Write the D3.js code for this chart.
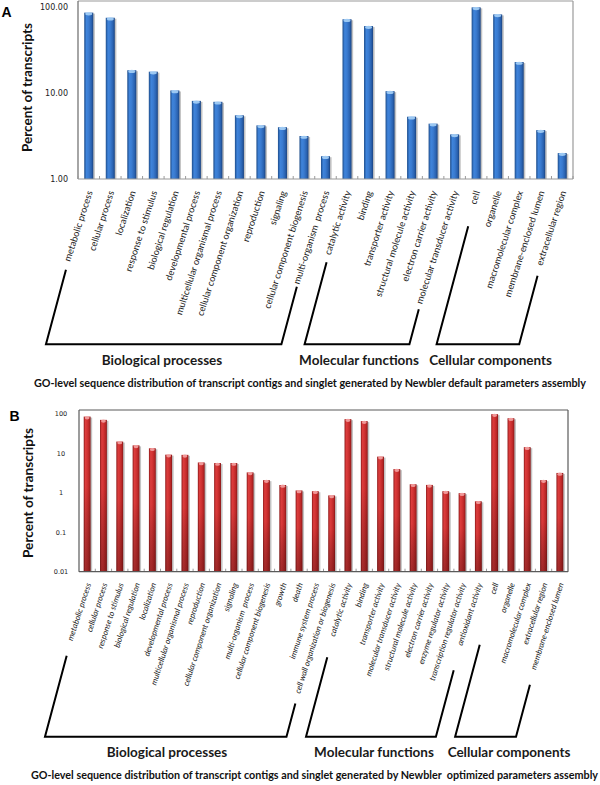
<!DOCTYPE html>
<html><head><meta charset="utf-8">
<script src="https://cdn.jsdelivr.net/npm/d3@7/dist/d3.min.js"></script>
<style>body{margin:0;background:#fff} svg{display:block} text{white-space:pre}</style>
</head><body><svg id="c" width="600" height="785"></svg>
<script>
// ---------------- DATA ----------------
const categoriesA = ["metabolic process","cellular process","localization","response to stimulus","biological regulation","developmental process","multicellular organismal process","cellular component organization","reproduction","signaling","cellular component biogenesis","multi-organism  process","catalytic activity","binding","transporter activity","structural molecule activity","electron carrier activity","molecular transducer activity","cell","organelle","macromolecular complex","membrane-enclosed lumen","extracellular region"];
const valuesA = [86, 75, 18.4, 17.7, 10.7, 8.1, 7.9, 5.5, 4.2, 4.0, 3.16, 1.84, 72, 60, 10.5, 5.3, 4.4, 3.3, 99, 82, 22.9, 3.7, 2.0];
const groupNamesA = ["Biological processes","Molecular functions","Cellular components"];
const groupSizesA = [12, 6, 5];
const tickValuesA = [1, 10, 100];
const tickLabelsA = ["1.00","10.00","100.00"];
const captionA = "GO-level sequence distribution of transcript contigs and singlet generated by Newbler default parameters assembly";

const categoriesB = ["metabolic process","cellular process","response to stimulus","biological regulation","localization","developmental process","multicellular organismal process","reproduction","cellular component organization","signaling","multi-organism  process","cellular component biogenesis","growth","death","immune system process","cell wall organization or biogenesis","catalytic activity","binding","transporter activity","molecular transducer activity","structural molecule activity","electron carrier activity","enzyme regulator activity","transcription regulator activity","antioxidant activity","cell","organelle","macromolecular complex","extracellular region","membrane-enclosed lumen"];
const valuesB = [86, 71, 20, 16, 13.5, 9.3, 9.2, 5.9, 5.7, 5.7, 3.3, 2.1, 1.58, 1.15, 1.1, 0.86, 74, 66, 8.3, 4.0, 1.65, 1.59, 1.1, 0.98, 0.61, 99, 78, 14.4, 2.1, 3.2];
const groupNamesB = ["Biological processes","Molecular functions","Cellular components"];
const groupSizesB = [16, 9, 5];
const tickValuesB = [0.01, 0.1, 1, 10, 100];
const tickLabelsB = ["0.01","0.1","1","10","100"];
const captionB = "GO-level sequence distribution of transcript contigs and singlet generated by Newbler  optimized parameters assembly";

const yTitle = "Percent of transcripts";

// ---------------- LAYOUT ----------------
const svg = d3.select("#c");
const defs = svg.append("defs");

function grad(id, stops, vertical){
  const g = defs.append("linearGradient").attr("id", id)
    .attr("x1","0").attr("y1","0").attr("x2", vertical ? "0" : "1").attr("y2", vertical ? "1" : "0");
  stops.forEach(s => g.append("stop").attr("offset", s[0]).attr("stop-color", s[1]).attr("stop-opacity", s[2] == null ? 1 : s[2]));
}
grad("blueH", [["0%","#1d4c8a"],["25%","#3f84db"],["50%","#3a7bd0"],["80%","#2a62b0"],["100%","#1a4380"]]);
grad("redH", [["0%","#8e1818"],["25%","#dc3d3d"],["50%","#d23434"],["80%","#b82626"],["100%","#861515"]]);
grad("redV", [["0%","#000",0],["45%","#000",0],["100%","#3a0a0a",0.35]], true);

const panels = [
  { letter:"A", letterX:1.5, letterY:17, cats:categoriesA, vals:valuesA, groups:groupNamesA, sizes:groupSizesA,
    ticks:tickValuesA, tickLabels:tickLabelsA, caption:captionA,
    left:78, right:573, frameTop:1, top100:7, bottom:179, domain:[1,100],
    tickFont:"8px 'DejaVu Sans'", tickX:68, tickAnchor:"end",
    titleX:27, titleY:87.5, titleLen:129,
    barColor:"url(#blueH)", overlay:null, cap:"#a6d0f6", frame:"#9a9a9a", axisLeft:"#6a6a6a",
    labelY:192, labelDx:4, labelAngle:-72, labelRef:["multicellular organismal process",130], labelItalic:false,
    bracketBottom:344.3, gaps:[[8,2],[7,5],[22,10]],
    groupX:[162,359,490.6], groupY:364.5, groupFont:13.5,
    captionX:310, captionY:386.5, captionW:552 },
  { letter:"B", letterX:9.5, letterY:420.7, cats:categoriesB, vals:valuesB, groups:groupNamesB, sizes:groupSizesB,
    ticks:tickValuesB, tickLabels:tickLabelsB, caption:captionB,
    left:79, right:568, frameTop:410, top100:414, bottom:571.7, domain:[0.01,100],
    tickFont:"6.5px 'DejaVu Sans'", tickX:61, tickAnchor:"middle",
    titleX:28, titleY:493, titleLen:130,
    barColor:"url(#redH)", overlay:"url(#redV)", cap:"#f3a3a3", frame:"#5a5a5a", axisLeft:"#5a5a5a",
    labelY:584, labelDx:4, labelAngle:-72, labelRef:["multicellular organismal process",107], labelItalic:true,
    bracketBottom:736.7, gaps:[[15,10],[21,25],[52,15]],
    groupX:[167,374,509], groupY:756.5, groupFont:13.5,
    captionX:314.5, captionY:778.5, captionW:567 }
];

const rad = Math.PI/180;
const bracketAng = 75 * rad;

panels.forEach(p => {
  const g = svg.append("g");
  const x = d3.scaleBand().domain(p.cats.map((c,i)=>i)).range([p.left, p.right]).paddingInner(0.58).paddingOuter(0.29);
  const y = d3.scaleLog().domain(p.domain).range([p.bottom, p.top100]);
  const bw = x.bandwidth();
  const step = x.step();

  // frame
  g.append("line").attr("x1",p.left).attr("x2",p.right).attr("y1",p.frameTop).attr("y2",p.frameTop).attr("stroke",p.frame).attr("stroke-width",1.2);
  g.append("line").attr("x1",p.right).attr("x2",p.right).attr("y1",p.frameTop).attr("y2",p.bottom).attr("stroke",p.frame).attr("stroke-width",1.2);
  g.append("line").attr("x1",p.left).attr("x2",p.left).attr("y1",p.frameTop).attr("y2",p.bottom).attr("stroke",p.axisLeft).attr("stroke-width",1.2);

  // x-axis ticks between bands (inward)
  const bounds = d3.range(p.cats.length + 1).map(k => p.left + k*step);
  g.selectAll(null).data(bounds).enter().append("line")
    .attr("x1",d=>d).attr("x2",d=>d).attr("y1",p.bottom).attr("y2",p.bottom-3)
    .attr("stroke","#9a9a9a").attr("stroke-width",1);

  // y tick labels
  g.selectAll(null).data(p.ticks).enter().append("text")
    .attr("x", p.tickX).attr("y", d => y(d)).attr("dy","0.35em")
    .attr("text-anchor", p.tickAnchor).style("font", p.tickFont).attr("fill","#222")
    .text((d,i) => p.tickLabels[i]);

  // bars
  const bars = g.selectAll(null).data(p.vals).enter().append("g");
  bars.append("rect").attr("x",(d,i)=>x(i)+1.6).attr("y",d=>y(d)+1).attr("width",bw).attr("height",d=>p.bottom-y(d)-1)
    .attr("fill","#7a7a7a").attr("opacity",0.45);
  bars.append("rect").attr("x",(d,i)=>x(i)).attr("y",d=>y(d)).attr("width",bw).attr("height",d=>p.bottom-y(d))
    .attr("fill",p.barColor);
  if (p.overlay) bars.append("rect").attr("x",(d,i)=>x(i)).attr("y",d=>y(d)).attr("width",bw).attr("height",d=>p.bottom-y(d))
    .attr("fill",p.overlay);
  bars.append("ellipse").attr("cx",(d,i)=>x(i)+bw/2).attr("cy",d=>y(d)+1.2).attr("rx",bw/2-1).attr("ry",1.6)
    .attr("fill",p.cap).attr("opacity",0.9);

  // bottom axis line
  g.append("line").attr("x1",p.left).attr("x2",p.right).attr("y1",p.bottom).attr("y2",p.bottom).attr("stroke",p.frame).attr("stroke-width",1.2);

  // category labels: size chosen so the reference label has its measured length
  const probe = g.append("text").style("font-family","Lato").style("font-size","10px")
    .style("font-style", p.labelItalic ? "italic" : "normal").text(p.labelRef[0]);
  const fs = 10 * p.labelRef[1] / probe.node().getComputedTextLength();
  probe.remove();
  const a = -p.labelAngle * rad;
  const labels = g.selectAll(null).data(p.cats).enter().append("text")
    .attr("text-anchor","end")
    .attr("transform",(d,i)=>`translate(${x(i)+bw/2+p.labelDx},${p.labelY}) rotate(${p.labelAngle})`)
    .style("font-family","Lato").style("font-size",fs+"px").style("font-style", p.labelItalic ? "italic" : "normal")
    .attr("fill","#1a1a1a").text(d=>d);
  const starts = [];
  labels.each(function(d,i){
    const L = this.getComputedTextLength();
    const ax = x(i)+bw/2+p.labelDx, ay = p.labelY;
    starts.push([ax - L*Math.cos(a) - 2, ay + L*Math.sin(a)]);
  });

  // group brackets
  let idx = 0;
  p.sizes.forEach((n, gi) => {
    const first = idx, last = idx + n - 1; idx += n;
    const ends = [first, last].map((ci, k) => {
      const s = starts[ci];
      const gap = p.gaps[gi][k];
      const top = [s[0] - gap*Math.cos(bracketAng), s[1] + gap*Math.sin(bracketAng)];
      const bot = [top[0] - (p.bracketBottom - top[1]) / Math.tan(bracketAng), p.bracketBottom];
      return [top, bot];
    });
    const path = d3.path();
    path.moveTo(ends[0][0][0], ends[0][0][1]);
    path.lineTo(ends[0][1][0], ends[0][1][1]);
    path.lineTo(ends[1][1][0], ends[1][1][1]);
    path.lineTo(ends[1][0][0], ends[1][0][1]);
    g.append("path").attr("d", path.toString()).attr("fill","none").attr("stroke","#000").attr("stroke-width",2).attr("stroke-linejoin","miter");
    g.append("text").attr("x", p.groupX[gi]).attr("y", p.groupY).attr("text-anchor","middle")
      .style("font-family","Lato").style("font-weight","700").style("font-size",p.groupFont+"px").attr("fill","#1a1a1a")
      .text(p.groups[gi]);
  });

  // caption
  g.append("text").attr("x", p.captionX).attr("y", p.captionY).attr("text-anchor","middle")
    .attr("textLength", p.captionW).attr("lengthAdjust","spacingAndGlyphs")
    .style("font-family","Lato").style("font-weight","700").style("font-size","10.5px").attr("fill","#111")
    .text(p.caption);

  // y title
  g.append("text").attr("transform",`translate(${p.titleX},${p.titleY}) rotate(-90)`).attr("text-anchor","middle").attr("dy","0.35em")
    .attr("textLength", p.titleLen).attr("lengthAdjust","spacingAndGlyphs")
    .style("font-family","Lato").style("font-weight","700").style("font-size","13.5px").attr("fill","#111")
    .text(yTitle);

  // panel letter
  g.append("text").attr("x", p.letterX).attr("y", p.letterY)
    .style("font-family","'Liberation Sans'").style("font-weight","700").style("font-size","14px").attr("fill","#000")
    .text(p.letter);
});
</script></body></html>
